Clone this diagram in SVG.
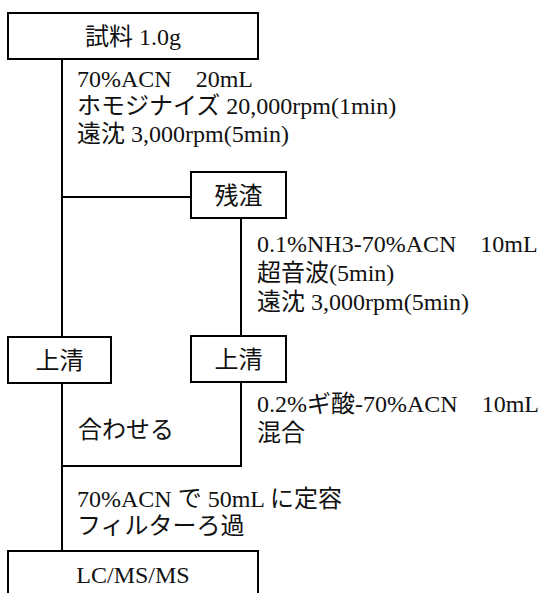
<svg xmlns="http://www.w3.org/2000/svg" width="548" height="593" viewBox="0 0 548 593">
<style>
.box{fill:#fff;stroke:#000;stroke-width:2}
.ln{fill:none;stroke:#000;stroke-width:2}
text{font-family:"Liberation Serif","Noto Sans CJK JP",serif;font-size:24px;fill:#111}
.c{text-anchor:middle}
</style>
<rect width="548" height="593" fill="#fff"/>
<g id="connectors">
<path class="ln" d="M62 59V337M62 383V551M62 197H191M241 218V336M241 382V466H62"/>
</g>
<g id="n-sample"><rect class="box" x="8" y="13" width="250" height="46"/><text class="c" x="133" y="45">試料 1.0g</text></g>
<g id="n-residue"><rect class="box" x="191" y="172" width="95" height="46"/><text class="c" x="238.5" y="204">残渣</text></g>
<g id="n-sup1"><rect class="box" x="8" y="337" width="103" height="46"/><text class="c" x="59.5" y="369">上清</text></g>
<g id="n-sup2"><rect class="box" x="191" y="336" width="95" height="46"/><text class="c" x="238.5" y="368">上清</text></g>
<g id="n-lcms"><rect class="box" x="8" y="551" width="250" height="70"/><text class="c" x="133" y="583">LC/MS/MS</text></g>
<g id="labels">
<text x="77" y="87">70%ACN　20mL</text>
<text x="77" y="114">ホモジナイズ 20,000rpm(1min)</text>
<text x="77" y="142">遠沈 3,000rpm(5min)</text>
<text x="257" y="252">0.1%NH3-70%ACN　10mL</text>
<text x="257" y="281">超音波(5min)</text>
<text x="257" y="310">遠沈 3,000rpm(5min)</text>
<text x="257" y="412">0.2%ギ酸-70%ACN　10mL</text>
<text x="257" y="441">混合</text>
<text x="78" y="438">合わせる</text>
<text x="77" y="507">70%ACN で 50mL に定容</text>
<text x="77" y="534">フィルターろ過</text>
</g>
</svg>
